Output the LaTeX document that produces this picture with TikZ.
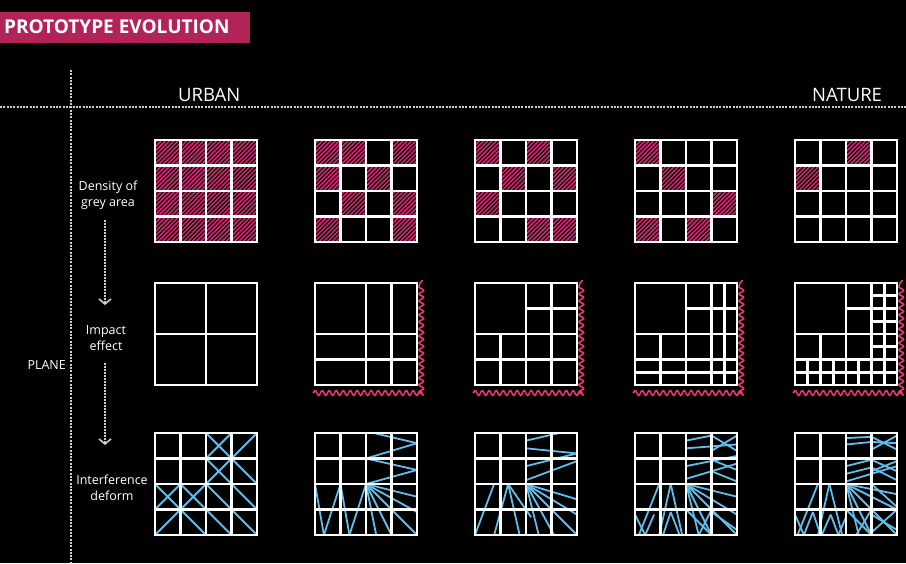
\documentclass[tikz,border=0pt]{standalone}
\usepackage{fontspec}
\setmainfont{Open Sans}
\usepackage{tikz}
\usetikzlibrary{arrows.meta,patterns.meta,decorations.pathmorphing}
\definecolor{rose}{RGB}{178,36,88}
\definecolor{hatchred}{RGB}{205,40,110}
\definecolor{wavepink}{RGB}{228,55,115}
\definecolor{iceblue}{RGB}{95,190,235}
\definecolor{dotgrey}{RGB}{205,205,205}
\tikzset{
  gridline/.style={white,line width=2.6pt},
  iceline/.style={iceblue,line width=1.8pt},
  hatchcell/.style={fill=hatchred,postaction={pattern={Lines[angle=45,distance=3pt,line width=1.1pt]},pattern color=black}},
  wave/.style={wavepink,line width=1.6pt,decorate,decoration={snake,amplitude=2.4pt,segment length=7pt}},
  dotline/.style={dotgrey,line width=1.3pt,dash pattern=on 2pt off 1.3pt},
  dotarrow/.style={dotgrey,line width=1.3pt,dash pattern=on 1.6pt off 1.4pt,-{Straight Barb[length=5pt,width=12pt,line width=1.6pt]}},
  heading/.style={white,inner sep=0pt,font=\bfseries\fontsize{19}{19}\selectfont},
  axislabel/.style={white,inner sep=0pt,font=\fontsize{18.5}{18.5}\selectfont},
  steplabel/.style={white,inner sep=0pt,align=center,font=\fontsize{12.5}{15.5}\selectfont}
}
% 4x4 grid with hatched cells (col/row)
\newcommand{\densgrid}[3]{%
  \begin{scope}[shift={(#1,#2)},x=25.5pt,y=-25.5pt]
    \foreach \c/\r in {#3} \fill[hatchcell] (\c-1,\r-1) rectangle (\c,\r);
    \foreach \i in {1,2,3} {\draw[gridline] (\i,0) -- (\i,4); \draw[gridline] (0,\i) -- (4,\i);}
    \draw[gridline] (0,0) rectangle (4,4);
  \end{scope}}
% subdivided square: split at p, from a to b (both ways)
\newcommand{\impactgrid}[3]{%
  \begin{scope}[shift={(#1,#2)},x=102pt,y=-102pt]
    \foreach \p/\a/\b in {#3} {\draw[gridline] (\p,\a) -- (\p,\b); \draw[gridline] (\a,\p) -- (\b,\p);}
    \draw[gridline] (0,0) rectangle (1,1);
  \end{scope}}
% 4x4 grid with blue strokes
\newcommand{\interfgrid}[3]{%
  \begin{scope}[shift={(#1,#2)},x=25.5pt,y=-25.5pt]
    \foreach \a/\b/\c/\d in {#3} \draw[iceline] (\a,\b) -- (\c,\d);
    \foreach \i in {1,2,3} {\draw[gridline] (\i,0) -- (\i,4); \draw[gridline] (0,\i) -- (4,\i);}
    \draw[gridline] (0,0) rectangle (4,4);
  \end{scope}}

\begin{document}
\begin{tikzpicture}[x=1pt,y=-1pt]
\useasboundingbox (0,0) rectangle (906,563);
\fill[black] (0,0) rectangle (906,563);
% title
\fill[rose] (0,12) rectangle (250,43);
\node[heading,anchor=base west] (title) at (4,33) {PROTOTYPE EVOLUTION};
% axes
\draw[dotline] (0,107) -- (906,107);
\draw[dotline] (71,70) -- (71,563);
\node[axislabel,anchor=base west] (urban) at (178,101) {URBAN};
\node[axislabel,anchor=base west] (nature) at (812,101) {NATURE};
\node[steplabel,anchor=base east] (plane) at (66,369) {PLANE};
% row labels (base = last line)
\node[steplabel,anchor=base] (density) at (108,206) {Density of\\grey area};
\node[steplabel,anchor=base] (impact) at (106,350) {Impact\\effect};
\node[steplabel,anchor=base] (interf) at (112,500) {Interference\\deform};
\coordinate (drop1a) at (105,220);
\coordinate (drop1b) at (105,305);
\coordinate (drop2a) at (105,363);
\coordinate (drop2b) at (105,445);
\draw[dotarrow] (drop1a) -- (drop1b);
\draw[dotarrow] (drop2a) -- (drop2b);
% row 1: density of grey area
\densgrid{155}{140}{1/1,2/1,3/1,4/1,1/2,2/2,3/2,4/2,1/3,2/3,3/3,4/3,1/4,2/4,3/4,4/4}
\densgrid{315}{140}{1/1,2/1,4/1,1/2,3/2,2/3,4/3,1/4,4/4}
\densgrid{475}{140}{1/1,3/1,2/2,4/2,1/3,3/4,4/4}
\densgrid{635}{140}{1/1,2/2,4/3,1/4,3/4}
\densgrid{795}{140}{3/1,1/2}
% row 2: impact effect
\impactgrid{155}{283}{0.5/0/1}
\impactgrid{315}{283}{0.5/0/1,0.75/0/1}
\impactgrid{475}{283}{0.5/0/1,0.75/0/1,0.25/0.5/1}
\impactgrid{635}{283}{0.5/0/1,0.75/0/1,0.875/0/1,0.25/0.5/1}
\impactgrid{795}{283}{0.5/0/1,0.75/0/1,0.875/0/1,0.25/0.5/1,0.125/0.75/1,0.375/0.75/1,0.625/0.75/1}
\foreach \x in {315,475,635,795}
  \draw[wave] (\x-2,393) -- (\x+107,393) -- (\x+107,280);
% row 3: interference deform
\interfgrid{155}{433}{2/0/4/2,2/1/4/3,2/2/4/4,1/2/3/4,0/2/2/4,4/0/0/4,3/0/2/1,1/2/0/3}
\interfgrid{315}{433}{2.3/0/4/0.4,4/0.4/2/1,2/1/4/1.45,4/1.45/2/2,
  0/2/0.35/4,0.35/4/1/2,1/2/1.35/4,1.35/4/2/2,
  2/2/2.4/4,2/2/3/4,2/2/4/4,2/2/4/3.1,2/2/4/2.5}
\interfgrid{475}{433}{2/0.3/3.3/0,2/0.6/4/0.8,4/0.8/2/1.3,2/1.85/4/1.1,
  0/4/0.75/2,1.3/2/0.75/4,1.3/2/1.75/4,1.3/2/2.2/3.3,
  2/2/2.5/4,2/2/3.1/4,2/2/4/4,2/2/4/3.2,2/2/4/2.6}
\interfgrid{635}{433}{2/0.3/3/0.1,3/0.1/4/0.7,3/0.7/4/0.1,2/0.6/4/0.45,2/1.3/4/0.9,3/1.05/4/1.45,2/1.8/4/1.2,3/1.5/4/1.9,
  0.15/4/0.95/2,1.4/2/0.95/4,1.4/2/1.85/4,0/3.2/0.4/4,0.4/4/0.75/3.2,1.1/4/1.4/3.1,1.4/3.1/1.75/4,
  2/2/4/2.5,2/2/4/3.2,2/2/4/4,2/2/3/4,2/2/2.5/4,2/3/3/4,3/3/2.5/4,3/3.1/4/3.8}
\interfgrid{795}{433}{2/0.2/3/0.15,2/0.45/3/0.35,3/0.15/4/0.65,3/0.65/4/0.1,3/0.35/4/0.4,2/1.3/3/1.05,2/1.6/3/1.35,3/1.05/4/1.5,3/1.5/4/1.1,2/1.9/4/1.3,3/1.35/4/1.85,
  0.1/4/0.9/2,1.35/2/0.9/4,1.35/2/1.85/4,0/3.2/0.35/4,0.35/4/0.7/3.1,0.7/3.1/1/4,1.05/4/1.4/3.2,1.4/3.2/1.7/4,1.7/4/2/3.3,
  2/2/4/2.4,2/2/4/3,2/2/4/4,2/2/3/4,2/2/2.5/4,3/2/4/2.9,2/3/3/4,3/3/2.4/4,3/3.2/4/3.8,4/3/3/3.9}
\end{tikzpicture}
\end{document}
